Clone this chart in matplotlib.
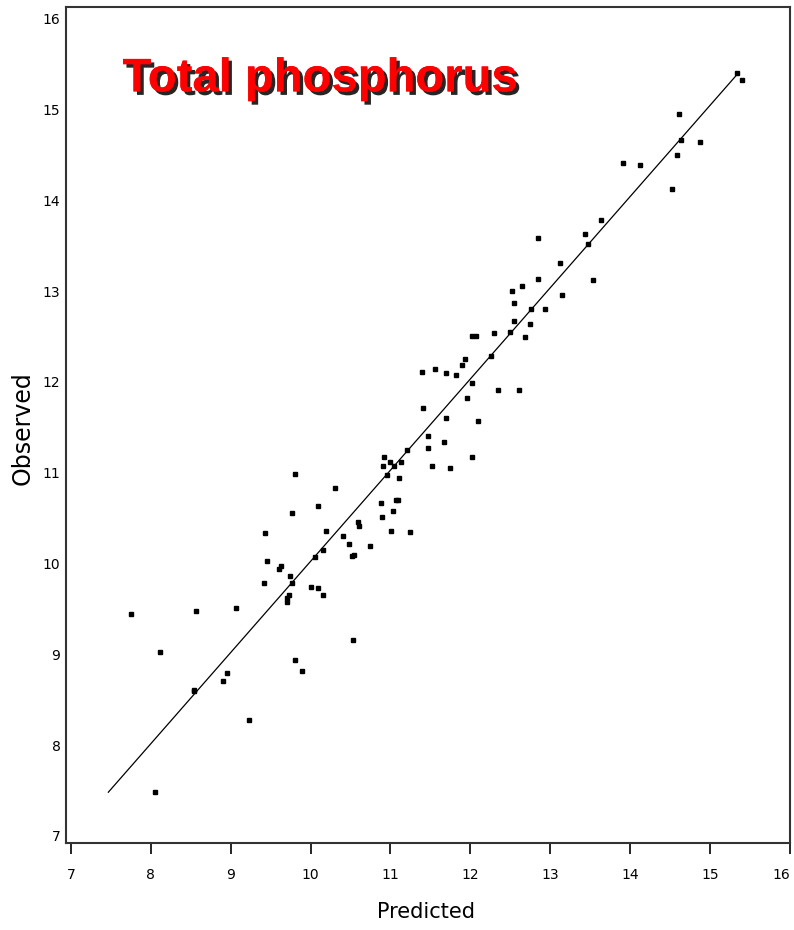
import matplotlib
matplotlib.use('Agg')
import matplotlib.pyplot as plt
import matplotlib.patheffects as pe

# observed vs predicted total phosphorus
predicted = [15.33, 15.40, 14.61, 14.64, 14.87, 14.58, 13.91, 14.12, 14.52, 13.63,
             13.44, 13.47, 12.84, 13.12, 13.53, 12.84, 12.65, 12.52, 12.55, 13.14,
             12.93, 12.76, 12.54, 12.75, 12.02, 12.07, 12.30, 12.50, 12.68, 12.26,
             11.93, 11.90, 11.40, 11.56, 11.70, 11.82, 12.02, 12.35, 12.61, 11.96,
             11.41, 11.70, 12.09, 11.47, 11.67, 11.47, 11.21, 10.92, 11.00, 11.13,
             10.91, 11.05, 11.52, 11.75, 12.02, 10.96, 11.11, 9.80, 10.31, 10.09,
             9.77, 10.88, 11.07, 11.10, 11.03, 10.89, 10.59, 10.61, 11.01, 11.24,
             10.19, 9.43, 10.41, 10.48, 10.74, 10.16, 10.06, 10.54, 10.52, 9.46,
             9.63, 9.61, 9.74, 9.77, 9.42, 10.01, 10.09, 10.16, 9.73, 9.71,
             9.70, 9.07, 8.57, 7.75, 10.53, 8.12, 9.80, 9.89, 8.96, 8.91,
             8.54, 8.54, 9.23, 8.05]
observed = [15.40, 15.33, 14.95, 14.67, 14.64, 14.50, 14.41, 14.39, 14.13, 13.78,
            13.63, 13.52, 13.59, 13.31, 13.12, 13.13, 13.06, 13.00, 12.87, 12.96,
            12.80, 12.80, 12.67, 12.64, 12.51, 12.51, 12.54, 12.55, 12.49, 12.28,
            12.25, 12.19, 12.11, 12.14, 12.10, 12.08, 11.99, 11.91, 11.91, 11.82,
            11.71, 11.60, 11.57, 11.40, 11.34, 11.27, 11.25, 11.17, 11.12, 11.12,
            11.07, 11.07, 11.07, 11.05, 11.17, 10.97, 10.94, 10.98, 10.83, 10.63,
            10.56, 10.67, 10.70, 10.70, 10.58, 10.51, 10.46, 10.41, 10.36, 10.35,
            10.36, 10.33, 10.30, 10.21, 10.19, 10.15, 10.07, 10.09, 10.08, 10.03,
            9.97, 9.94, 9.86, 9.79, 9.78, 9.74, 9.73, 9.65, 9.65, 9.62,
            9.58, 9.51, 9.48, 9.44, 9.16, 9.02, 8.94, 8.81, 8.79, 8.70,
            8.61, 8.59, 8.27, 7.48]

# fitted line end points
fit_x = [7.47, 15.36]
fit_y = [7.48, 15.41]

ticks = list(range(7, 17))

fig = plt.figure(figsize=(7.94, 9.30), dpi=100)
ax = fig.add_axes([0.0831, 0.0935, 0.912, 0.899])

ax.plot(fit_x, fit_y, color='black', linewidth=0.9)
ax.plot(predicted, observed, linestyle='none', marker='s', markersize=3.4,
        color='black')

ax.set_xlim(6.94, 16.0)
ax.set_ylim(6.92, 16.13)
ax.set_xticks(ticks)
ax.set_yticks(ticks)
ax.set_xticklabels([str(t) for t in ticks], fontsize=10)
ax.set_yticklabels([str(t) for t in ticks], fontsize=10)
ax.tick_params(axis='x', direction='out', length=8, width=1.2, pad=10)
ax.tick_params(axis='y', length=0, pad=4)
# last x label sits on the figure edge, keep it inside
ax.get_xticklabels()[-1].set_horizontalalignment('right')
for s in ax.spines.values():
    s.set_linewidth(1.5)
    s.set_color('#333333')

fig.text(0.536, 0.019, 'Predicted', fontsize=15, ha='center', va='center')
fig.text(0.029, 0.540, 'Observed', fontsize=17, rotation=90,
         ha='center', va='center')

ax.text(0.078, 0.899, 'Total phosphorus', transform=ax.transAxes,
        family=['Liberation Sans', 'DejaVu Sans'], fontweight='bold',
        fontsize=34, color='#ff0000', ha='left', va='baseline',
        path_effects=[pe.withSimplePatchShadow(offset=(2.5, -2.5),
                                               shadow_rgbFace='black',
                                               alpha=0.85),
                      pe.Normal()])

fig.savefig('out.png', dpi=100)
